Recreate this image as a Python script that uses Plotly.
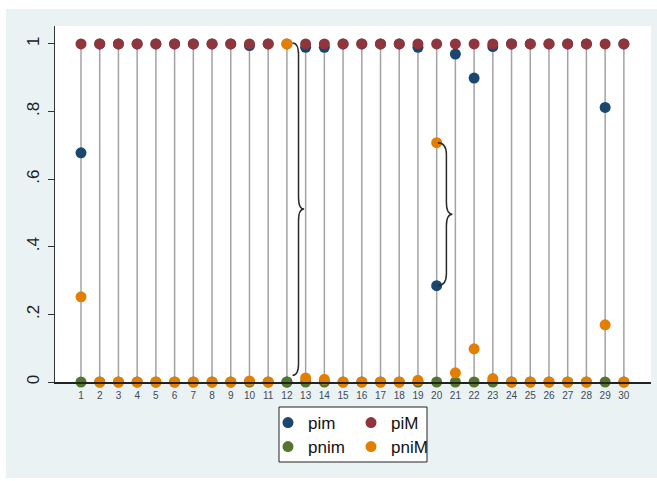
import plotly.graph_objects as go

# ---------------- data ----------------
obs = list(range(1, 31))
pim  = [0.678, 1, 1, 1, 1, 1, 1, 1, 1, 0.995, 1, 0.0, 0.99, 0.99, 1, 1, 1, 1, 0.99, 0.285,
        0.970, 0.899, 0.992, 1, 1, 1, 1, 1, 0.812, 1]
piM  = [1] * 30
pnim = [0] * 30
pniM = [0.252, 0, 0, 0, 0, 0, 0, 0, 0, 0.003, 0, 1.0, 0.012, 0.008, 0, 0, 0, 0, 0.005, 0.708,
        0.027, 0.098, 0.010, 0, 0, 0, 0, 0, 0.169, 0]
tick_labels = [str(i) for i in obs]
ytick_vals = [0, 0.2, 0.4, 0.6, 0.8, 1]
ytick_text = ["0", ".2", ".4", ".6", ".8", "1"]
brace_obs = [12, 20]   # observations annotated with a curly brace (pim -> pniM)

# ---------------- styles ----------------
NAVY, MAROON, GREEN, ORANGE = "#1a476f", "#90353b", "#55752f", "#e37e00"
PANEL = "#eaf2f3"
FONT = "Liberation Sans, Arial, sans-serif"

fig = go.Figure()

# drop lines (rspike from 0 to the max value)
lx, ly = [], []
for i, x in enumerate(obs):
    top = max(pim[i], piM[i], pnim[i], pniM[i])
    lx += [x, x, None]
    ly += [0, top, None]
fig.add_trace(go.Scatter(x=lx, y=ly, mode="lines", line=dict(color="#a3a3a3", width=1.5),
                         showlegend=False, hoverinfo="skip", cliponaxis=False))

ms = 11
fig.add_trace(go.Scatter(x=obs, y=pim, mode="markers", name="pim",
                         marker=dict(color=NAVY, size=ms), cliponaxis=False, legend="legend"))
fig.add_trace(go.Scatter(x=obs, y=piM, mode="markers", name="piM",
                         marker=dict(color=MAROON, size=ms), cliponaxis=False, legend="legend"))
fig.add_trace(go.Scatter(x=obs, y=pnim, mode="markers", name="pnim",
                         marker=dict(color=GREEN, size=ms), cliponaxis=False, legend="legend2"))
fig.add_trace(go.Scatter(x=obs, y=pniM, mode="markers", name="pniM",
                         marker=dict(color=ORANGE, size=ms), cliponaxis=False, legend="legend2"))

# ---------------- braces ----------------
def brace_path(x0, xv, xt, ylo, yhi, d):
    ym = (ylo + yhi) / 2
    return (f"M {x0},{yhi} Q {xv},{yhi} {xv},{yhi-d} L {xv},{ym+d} "
            f"Q {xv},{ym} {xt},{ym} Q {xv},{ym} {xv},{ym-d} "
            f"L {xv},{ylo+d} Q {xv},{ylo} {x0},{ylo}")

shapes = []
b1 = brace_obs[0] - 1
shapes.append(dict(type="path", xref="x", yref="y",
                   path=brace_path(obs[b1] + 0.3, obs[b1] + 0.62, obs[b1] + 0.92,
                                   min(pim[b1], pniM[b1]) + 0.02, max(pim[b1], pniM[b1]) + 0.003, 0.035),
                   line=dict(color="#2a2a2a", width=1.5)))
b2 = brace_obs[1] - 1
shapes.append(dict(type="path", xref="x", yref="y",
                   path=brace_path(obs[b2] + 0.06, obs[b2] + 0.52, obs[b2] + 0.84,
                                   min(pim[b2], pniM[b2]), max(pim[b2], pniM[b2]), 0.035),
                   line=dict(color="#2a2a2a", width=1.5)))

# ---------------- frame pieces (paper coords) ----------------
L, R, T, B = 55, 6, 26, 99
W, H = 657, 481
pw, ph = W - L - R, H - T - B
def px(xp): return (xp - L) / pw
def py(yp): return (H - B - yp) / ph

# white strips outside the light panel
shapes.append(dict(type="rect", xref="paper", yref="paper", x0=px(-5), x1=px(W + 5), y0=py(9), y1=py(-5),
                   fillcolor="white", line=dict(width=0), layer="below"))
shapes.append(dict(type="rect", xref="paper", yref="paper", x0=px(-5), x1=px(6), y0=py(-5), y1=py(W),
                   fillcolor="white", line=dict(width=0), layer="below"))
shapes.append(dict(type="rect", xref="paper", yref="paper", x0=px(-5), x1=px(W + 5), y0=py(486), y1=py(478),
                   fillcolor="white", line=dict(width=0), layer="below"))
# legend box
shapes.append(dict(type="rect", xref="paper", yref="paper", x0=px(279), x1=px(427), y0=py(462), y1=py(407),
                   fillcolor="white", line=dict(color="#222", width=1), layer="below"))

leg_common = dict(orientation="h", xanchor="left", yanchor="middle",
                  bgcolor="rgba(0,0,0,0)", entrywidth=38, entrywidthmode="pixels",
                  font=dict(size=17, family=FONT, color="#111"), itemwidth=30, tracegroupgap=0)

fig.update_layout(
    width=W, height=H,
    margin=dict(l=L, r=R, t=T, b=B),
    paper_bgcolor=PANEL, plot_bgcolor="white",
    font=dict(family=FONT, color="#222"),
    shapes=shapes,
    legend=dict(x=px(268), y=py(423), **leg_common),
    legend2=dict(x=px(268), y=py(447), **leg_common),
    xaxis=dict(range=[-0.389, 31.45], tickmode="array", tickvals=obs, ticktext=tick_labels,
               showgrid=False, zeroline=False, showline=True, linecolor="#222", linewidth=1.5,
               ticks="", tickfont=dict(size=10, color="#3d4a5c", family=FONT), ticklabelstandoff=3),
    yaxis=dict(range=[0, 1.053], tickmode="array", tickvals=ytick_vals, ticktext=ytick_text,
               showgrid=False, zeroline=False, showline=True, linecolor="#333", linewidth=1.3,
               ticks="outside", ticklen=6, tickcolor="#333", tickangle=-90,
               tickfont=dict(size=17, color="#222", family=FONT), ticklabelstandoff=2),
)

fig.write_html("out.html")
